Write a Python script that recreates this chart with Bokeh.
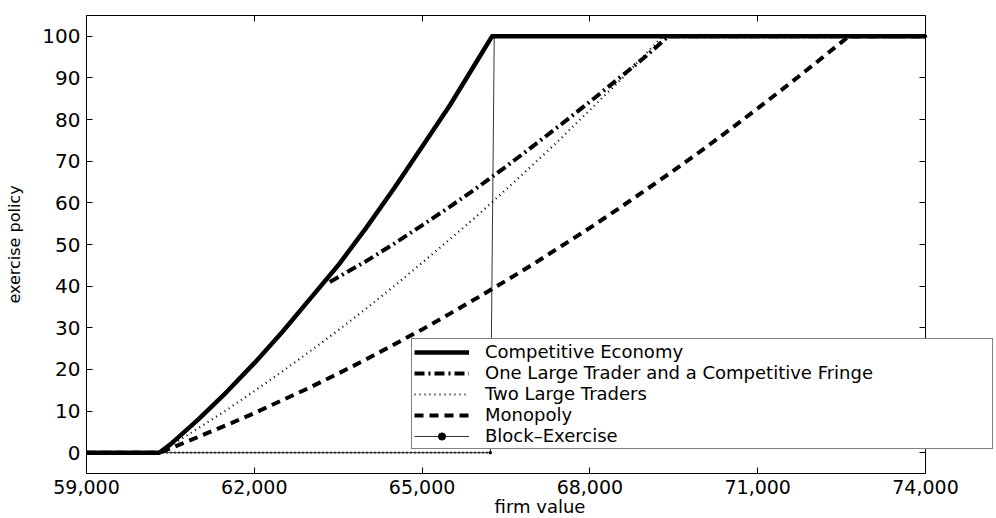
from bokeh.plotting import figure
from bokeh.models import (Range1d, LinearAxis, FixedTicker, NumeralTickFormatter,
                          Legend, LegendItem)
from bokeh.embed import file_html
from bokeh.resources import INLINE

# ---- data ----
x_ticks = [59000, 62000, 65000, 68000, 71000, 74000]
y_ticks = [0, 10, 20, 30, 40, 50, 60, 70, 80, 90, 100]

comp_x = [59000, 60300, 60500, 61000, 61500, 62000, 62500, 63000, 63500, 64000,
          64500, 65000, 65500, 66000, 66250, 74000]
comp_y = [0, 0, 2, 8, 14.5, 21.5, 29, 37, 45, 54, 63.5, 73.5, 83.5, 94.5, 100, 100]

one_x = [63350, 64000, 64500, 65000, 65500, 66000, 66500, 67000, 67500, 68000,
         68500, 69000, 69400, 74000]
one_y = [41, 46, 50.2, 54.6, 59.1, 63.8, 68.7, 73.8, 79, 84.3, 89.7, 95.2, 100, 100]

two_x = [59000, 60300, 60500, 61000, 61500, 62000, 62500, 63000, 63500, 64000,
         64500, 65000, 65500, 66000, 66500, 67000, 67500, 68000, 68500, 69000,
         69300, 74000]
two_y = [0, 0, 1.6, 5.9, 10.2, 14.8, 19.5, 24.4, 29.4, 34.6, 40, 45.6, 51.3, 57.1,
         63.2, 69.4, 75.7, 82.3, 88.9, 95.8, 100, 100]

mono_x = [59000, 60300, 60500, 61000, 61500, 62000, 62500, 63000, 63500, 64000,
          64500, 65000, 65500, 66000, 66500, 67000, 67500, 68000, 68500, 69000,
          69500, 70000, 70500, 71000, 71500, 72000, 72500, 72630, 74000]
mono_y = [0, 0, 1, 3.8, 6.6, 9.5, 12.6, 15.7, 19, 22.4, 26, 29.6, 33.4, 37.3, 41.3,
          45.4, 49.7, 54, 58.5, 63.1, 67.8, 72.6, 77.6, 82.7, 87.9, 93.2, 98.6, 100, 100]

block_x = [59000, 66220, 66290, 74000]
block_y = [0, 0, 100, 100]

labels = ["Competitive Economy", "One Large Trader and a Competitive Fringe",
          "Two Large Traders", "Monopoly", "Block\u2013Exercise"]

X0, X1 = 59000, 74000
Y0, Y1 = -5, 105
FONT = "DejaVu Sans"

# the axes box spans 839 px; the drawing area continues to the right so the
# legend can overhang the box as in the original
BOX_W = 839
FRAME_W = 907
x_end = X1 + (FRAME_W - BOX_W) * (X1 - X0) / BOX_W

p = figure(frame_width=FRAME_W, frame_height=458,
           x_range=Range1d(X0, x_end), y_range=Range1d(Y0, Y1),
           output_backend="svg", toolbar_location=None,
           min_border_left=86, min_border_top=15, min_border_right=0,
           min_border_bottom=0, background_fill_color="white")
p.xgrid.visible = False
p.ygrid.visible = False
p.outline_line_color = None

def style_axis(ax, show_labels=True):
    ax.axis_line_color = "black"
    ax.axis_line_width = 1
    ax.major_tick_line_color = "black"
    ax.major_tick_in = 6
    ax.major_tick_out = 0
    ax.minor_tick_line_color = None
    ax.major_label_text_font = FONT
    ax.major_label_text_color = "black"
    ax.axis_label_text_font = FONT
    ax.axis_label_text_font_style = "normal"
    ax.axis_label_text_color = "black"
    if not show_labels:
        ax.major_label_text_font_size = "1px"
        ax.major_label_text_color = None
        ax.major_label_standoff = 0

xa = p.xaxis[0]
style_axis(xa)
xa.bounds = (X0, X1)
xa.ticker = FixedTicker(ticks=x_ticks)
xa.formatter = NumeralTickFormatter(format="0,0")
xa.major_label_text_font_size = "19px"
xa.major_label_standoff = 6
xa.axis_label = "firm value"
xa.axis_label_text_font_size = "18px"
xa.axis_label_standoff = -1

ya = p.yaxis[0]
style_axis(ya)
ya.bounds = (Y0, Y1)
ya.ticker = FixedTicker(ticks=y_ticks)
ya.major_label_text_font_size = "20px"
ya.major_label_standoff = 6
ya.axis_label = "exercise policy"
ya.axis_label_text_font_size = "16px"
ya.axis_label_standoff = 15

top = LinearAxis(ticker=FixedTicker(ticks=x_ticks), bounds=(X0, X1))
style_axis(top, show_labels=False)
p.add_layout(top, "above")
right = LinearAxis(ticker=FixedTicker(ticks=y_ticks), bounds=(Y0, Y1),
                   fixed_location=X1)
style_axis(right, show_labels=False)
p.add_layout(right, "right")

# block exercise (thin line with point markers)
r_block = p.line(block_x, block_y, line_color="black", line_width=0.8)
r_block_dots = p.line(block_x[:2], block_y[:2], line_color="black", line_width=2.2,
                      line_dash="1 3")
r_block_mk = p.scatter(block_x, block_y, size=2.5, color="black")

r_mono = p.line(mono_x, mono_y, line_color="black", line_width=4, line_dash="9 6")
r_two = p.line(two_x, two_y, line_color="black", line_width=2.2, line_dash="1 4")
r_one = p.line(one_x, one_y, line_color="black", line_width=4, line_dash="10 4 2 4")
r_comp = p.line(comp_x, comp_y, line_color="black", line_width=4.5,
                line_join="round")

legend = Legend(items=[
    LegendItem(label=labels[0], renderers=[r_comp]),
    LegendItem(label=labels[1], renderers=[r_one]),
    LegendItem(label=labels[2], renderers=[r_two]),
    LegendItem(label=labels[3], renderers=[r_mono]),
    LegendItem(label=labels[4], renderers=[r_block, r_block_mk]),
], location=(325, 24))
legend.label_text_font = FONT
legend.label_text_font_size = "18px"
legend.label_text_color = "black"
legend.padding = 2
legend.spacing = 0
legend.margin = 0
legend.glyph_width = 55
legend.glyph_height = 18
legend.label_height = 18
legend.label_standoff = 16
legend.label_width = 505
legend.border_line_color = "black"
legend.border_line_width = 1
legend.background_fill_color = "white"
legend.background_fill_alpha = 1
p.add_layout(legend, "center")

open("out.html", "w").write(file_html(p, INLINE))
